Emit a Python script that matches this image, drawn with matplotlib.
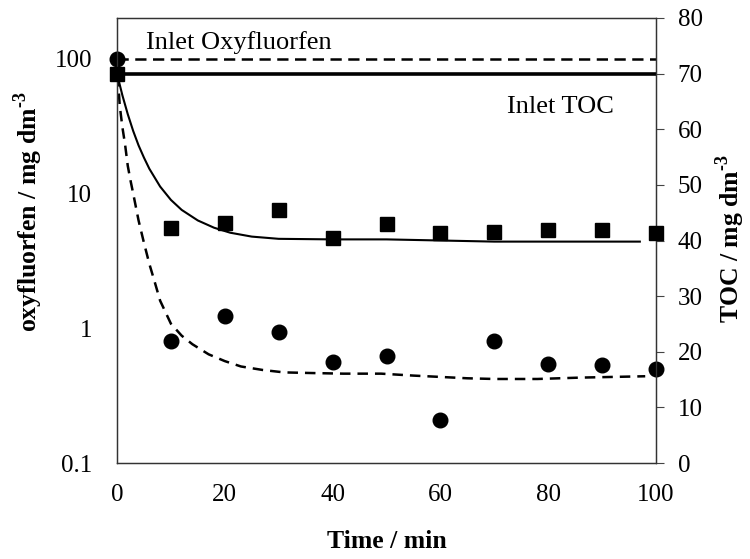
import matplotlib
matplotlib.use("Agg")
import matplotlib.pyplot as plt
from matplotlib.ticker import FixedLocator, NullLocator, FixedFormatter

plt.rcParams['font.family'] = ['Liberation Serif', 'DejaVu Serif']
plt.rcParams['mathtext.fontset'] = 'custom'
plt.rcParams['mathtext.rm'] = 'Liberation Serif'
plt.rcParams['mathtext.bf'] = 'Liberation Serif:bold'

# ---- data ----
time = [0, 10, 20, 30, 40, 50, 60, 70, 80, 90, 100]
oxyfluorfen = [100, 0.80, 1.24, 0.93, 0.56, 0.62, 0.21, 0.80, 0.54, 0.53, 0.50]
toc = [70, 42.3, 43.2, 45.5, 40.4, 43.0, 41.3, 41.6, 41.9, 41.9, 41.4]

# model curves
oxy_fit_t = [0, 0.25, 0.5, 1, 1.5, 2, 2.5, 3, 4, 5, 6, 7, 8, 10, 12, 14, 17, 20,
             23, 27, 31, 36, 42, 49, 55, 60, 65, 70, 78, 86, 92, 98]
oxy_fit = [100, 65, 45, 31, 23, 16, 12.5, 10, 6.3, 4.3, 3.0, 2.2, 1.6, 1.08,
           0.88, 0.76, 0.64, 0.57, 0.52, 0.49, 0.47, 0.465, 0.46, 0.46, 0.445,
           0.435, 0.425, 0.42, 0.42, 0.43, 0.435, 0.44]
toc_fit_t = [0, 1, 2, 3, 4, 5, 6, 8, 10, 12, 15, 18, 21, 25, 30, 40, 50, 60,
             70, 80, 90, 97]
toc_fit = [70, 66.1, 62.7, 59.7, 57.1, 54.9, 52.9, 49.7, 47.3, 45.5, 43.6, 42.3,
           41.4, 40.7, 40.3, 40.2, 40.2, 40.0, 39.8, 39.8, 39.8, 39.8]

inlet_oxy = 100
inlet_toc = 70

x_ticks = [0, 20, 40, 60, 80, 100]
left_ticks = [0.1, 1, 10, 100]
left_labels = ['0.1', '1', '10', '100']
right_ticks = [0, 10, 20, 30, 40, 50, 60, 70, 80]

# ---- figure ----
W, H = 750, 559
fig = plt.figure(figsize=(W / 100, H / 100), dpi=100)
L, R, T, B = 117, 656, 18, 463
ax = fig.add_axes([L / W, (H - B) / H, (R - L) / W, (B - T) / H])
ax2 = ax.twinx()

ax.set_yscale('log')
ax.set_xlim(0, 100)
ax.set_ylim(0.1, 200)
ax2.set_ylim(0, 80)

# inlet lines
ax.axhline(inlet_oxy, color='black', lw=1.8, dashes=(4.5, 2.6), clip_on=False)
ax2.axhline(inlet_toc, color='black', lw=2.6)

# fitted curves
ax.plot(oxy_fit_t, oxy_fit, color='black', lw=1.8, dashes=(4.2, 2.8))
ax2.plot(toc_fit_t, toc_fit, color='black', lw=1.5)

# data points
ax.plot(time, oxyfluorfen, 'o', color='black', ms=10.5, clip_on=False, zorder=5)
ax2.plot(time, toc, 's', color='black', ms=10.5, clip_on=False, zorder=5)

# ticks
ax.xaxis.set_major_locator(FixedLocator(x_ticks))
ax.xaxis.set_minor_locator(NullLocator())
ax.yaxis.set_major_locator(FixedLocator(left_ticks))
ax.yaxis.set_major_formatter(FixedFormatter(left_labels))
ax.yaxis.set_minor_locator(NullLocator())
ax.tick_params(axis='x', length=0, pad=15, labelsize=18)
ax.tick_params(axis='y', length=0, pad=18, labelsize=18)
ax2.yaxis.set_major_locator(FixedLocator(right_ticks))
ax2.tick_params(axis='y', direction='out', length=5.5, width=0.8, pad=10,
                labelsize=18, color='#444444')

for sp in list(ax.spines.values()) + list(ax2.spines.values()):
    sp.set_linewidth(0.9)
    sp.set_color('#333333')

# axis labels
sup = '$^{\\mathbf{\u20103}}$'
ax.set_xlabel('Time / min', fontsize=18.5, fontweight='bold')
ax.xaxis.set_label_coords(0.5, (B - 541) / (B - T))
ax.xaxis.label.set_va('center')
ax.set_ylabel('oxyfluorfen / mg dm' + sup, fontsize=18.5, fontweight='bold')
ax.yaxis.set_label_coords((28 - L) / (R - L), (B - 212) / (B - T))
ax.yaxis.label.set_va('center')
ax2.set_ylabel('TOC / mg dm' + sup, fontsize=18.5, fontweight='bold')
ax2.yaxis.set_label_coords((730 - L) / (R - L), (B - 238) / (B - T))
ax2.yaxis.label.set_va('center')

# annotations
fig.text(146 / W, (H - 49.5) / H, 'Inlet Oxyfluorfen', fontsize=19,
         ha='left', va='baseline')
fig.text(507 / W, (H - 113) / H, 'Inlet TOC', fontsize=19,
         ha='left', va='baseline')

fig.savefig('out.png', dpi=100)
